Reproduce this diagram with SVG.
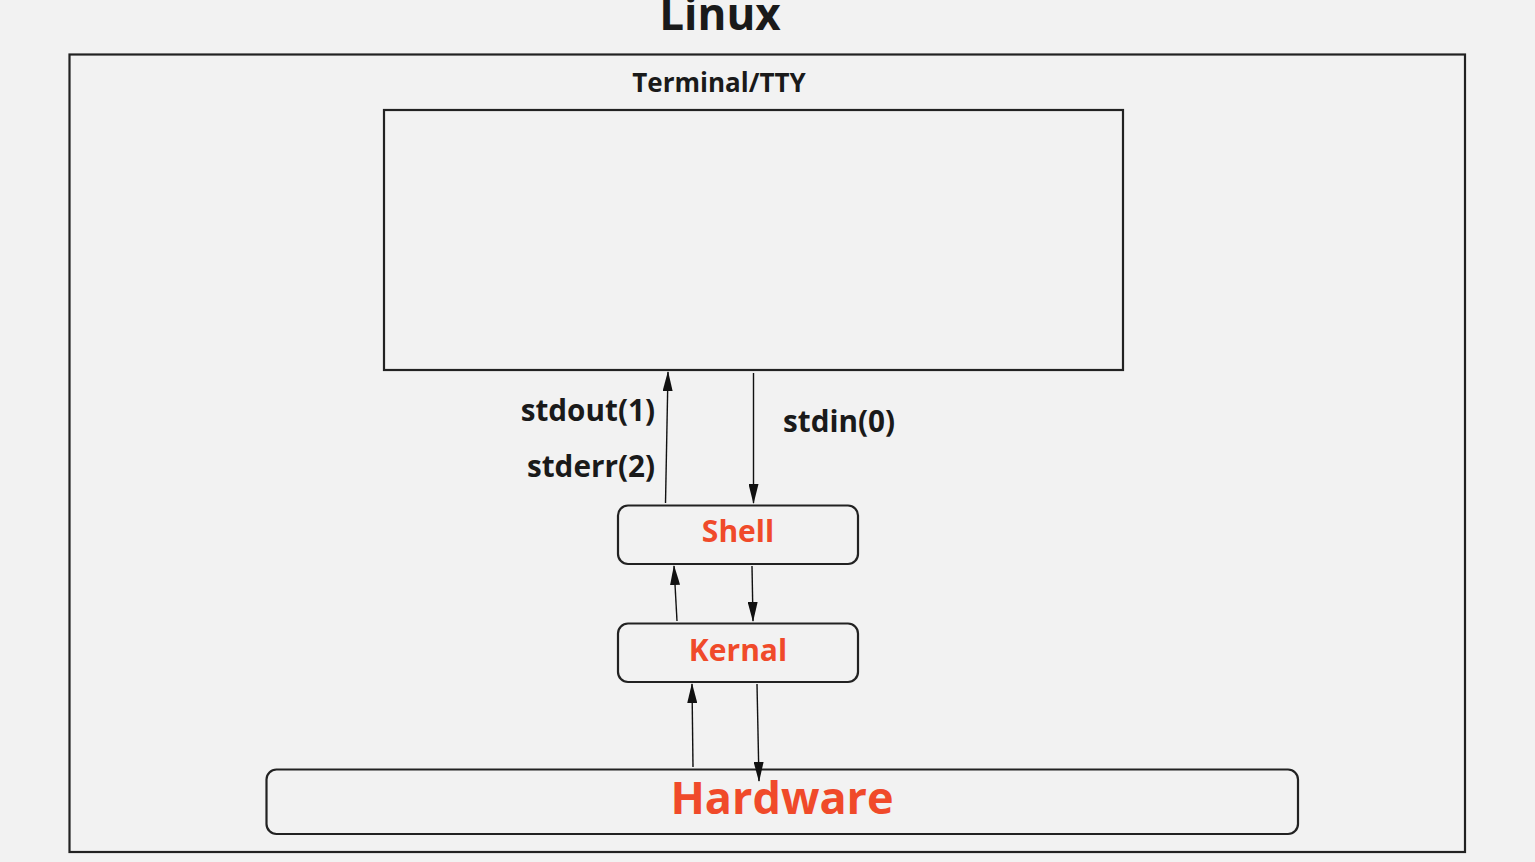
<svg xmlns="http://www.w3.org/2000/svg" width="1535" height="862" viewBox="0 0 1535 862">
<style>
.box{fill:none;stroke:#222;stroke-width:2.2}
.node{fill:#f2f2f2;stroke:#222;stroke-width:2.2}
.t{font-family:"Open Sans","Noto Sans","Liberation Sans",sans-serif;font-weight:bold;fill:#1a1a1a}
.r{font-family:"Open Sans","Noto Sans","Liberation Sans",sans-serif;font-weight:bold;fill:#f04a2a}
.c{stroke:#111;stroke-width:1.4;fill:none;marker-end:url(#ah)}
</style>
<defs>
<marker id="ah" markerUnits="userSpaceOnUse" markerWidth="20" markerHeight="10" viewBox="0 0 20 10" refX="19" refY="5" orient="auto">
<path d="M0,0 L20,5 L0,10 Z" fill="#111"/>
</marker>
</defs>
<rect width="1535" height="862" fill="#f2f2f2"/>
<g id="linux">
<rect class="box" x="69.5" y="54.5" width="1395.5" height="797.5"/>
<text class="t" x="720" y="30" font-size="44" text-anchor="middle">Linux</text>
</g>
<g id="terminal">
<rect class="box" x="384" y="110" width="739" height="260"/>
<text class="t" x="719" y="92" font-size="26" text-anchor="middle">Terminal/TTY</text>
</g>
<g id="shell">
<rect class="node" x="618" y="505.5" width="240" height="58.5" rx="10"/>
<text class="r" x="738" y="542" font-size="30" text-anchor="middle">Shell</text>
</g>
<g id="kernal">
<rect class="node" x="618" y="623.5" width="240" height="58.5" rx="10"/>
<text class="r" x="738" y="661" font-size="30" text-anchor="middle">Kernal</text>
</g>
<g id="hardware">
<rect class="node" x="266.5" y="769.5" width="1031.5" height="64.5" rx="10"/>
<text class="r" x="782" y="814" font-size="45" text-anchor="middle">Hardware</text>
</g>
<g id="labels">
<text class="t" x="655" y="421" font-size="29.7" text-anchor="end">stdout(1)</text>
<text class="t" x="655" y="477" font-size="29.7" text-anchor="end">stderr(2)</text>
<text class="t" x="783" y="432" font-size="29.7">stdin(0)</text>
</g>
<g id="connectors">
<path class="c" d="M665.5,503 L668,372"/>
<path class="c" d="M753.5,373 L753.5,503"/>
<path class="c" d="M677,621 L674,566"/>
<path class="c" d="M752,566 L753,621"/>
<path class="c" d="M693,767 L692,684"/>
<path class="c" d="M757,684 L759,781"/>
</g>
</svg>
